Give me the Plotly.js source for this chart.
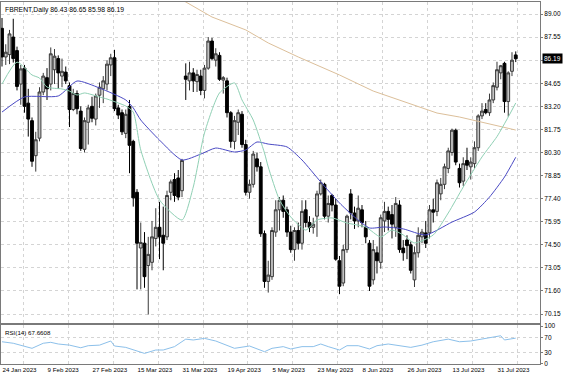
<!DOCTYPE html>
<html><head><meta charset="utf-8">
<script src="https://cdn.plot.ly/plotly-3.0.1.min.js"></script>
<style>html,body{margin:0;padding:0;background:#fff;}#chart{width:564px;height:376px;}</style>
</head><body><div id="chart"></div>
<script>
const dates = [
"2023-01-24","2023-01-25","2023-01-26","2023-01-27","2023-01-30","2023-01-31",
"2023-02-01","2023-02-02","2023-02-03","2023-02-06","2023-02-07","2023-02-08","2023-02-09","2023-02-10","2023-02-13","2023-02-14","2023-02-15","2023-02-16","2023-02-17","2023-02-20","2023-02-21","2023-02-22","2023-02-23","2023-02-24","2023-02-27","2023-02-28",
"2023-03-01","2023-03-02","2023-03-03","2023-03-06","2023-03-07","2023-03-08","2023-03-09","2023-03-10","2023-03-13","2023-03-14","2023-03-15","2023-03-16","2023-03-17","2023-03-20","2023-03-21","2023-03-22","2023-03-23","2023-03-24","2023-03-27","2023-03-28","2023-03-29","2023-03-30","2023-03-31",
"2023-04-03","2023-04-04","2023-04-05","2023-04-06","2023-04-10","2023-04-11","2023-04-12","2023-04-13","2023-04-14","2023-04-17","2023-04-18","2023-04-19","2023-04-20","2023-04-21","2023-04-24","2023-04-25","2023-04-26","2023-04-27","2023-04-28",
"2023-05-01","2023-05-02","2023-05-03","2023-05-04","2023-05-05","2023-05-08","2023-05-09","2023-05-10","2023-05-11","2023-05-12","2023-05-15","2023-05-16","2023-05-17","2023-05-18","2023-05-19","2023-05-22","2023-05-23","2023-05-24","2023-05-25","2023-05-26","2023-05-29","2023-05-30","2023-05-31",
"2023-06-01","2023-06-02","2023-06-05","2023-06-06","2023-06-07","2023-06-08","2023-06-09","2023-06-12","2023-06-13","2023-06-14","2023-06-15","2023-06-16","2023-06-19","2023-06-20","2023-06-21","2023-06-22","2023-06-23","2023-06-26","2023-06-27","2023-06-28","2023-06-29","2023-06-30",
"2023-07-03","2023-07-05","2023-07-06","2023-07-07","2023-07-10","2023-07-11","2023-07-12","2023-07-13","2023-07-14","2023-07-17","2023-07-18","2023-07-19","2023-07-20","2023-07-21","2023-07-24","2023-07-25","2023-07-26","2023-07-27","2023-07-28","2023-07-31",
"2023-08-01","2023-08-02","2023-08-03","2023-08-04","2023-08-07"];

const open = [88.10,86.30,86.45,87.55,86.70,84.60,85.60,83.40,82.30,80.10,81.20,84.10,85.00,84.60,85.50,86.20,85.10,85.35,84.50,83.00,84.00,82.90,80.50,82.20,83.20,82.40,83.90,84.30,84.60,85.80,86.25,83.10,82.80,81.50,83.20,81.00,77.80,74.30,74.60,73.20,73.40,74.90,75.60,75.10,75.00,77.80,78.60,78.70,77.90,85.10,84.80,85.30,84.75,85.10,84.20,85.60,87.30,86.10,86.40,84.85,84.80,82.80,81.00,82.20,82.70,80.80,77.80,78.30,79.90,79.40,75.20,72.20,72.50,75.30,76.70,77.30,76.70,75.30,74.20,75.40,74.60,76.70,75.90,75.60,76.30,77.70,78.30,76.30,77.60,77.00,73.50,72.10,74.20,77.70,76.50,76.00,76.70,75.60,74.60,72.30,74.00,73.40,76.00,76.60,76.40,75.60,77.00,74.30,74.80,74.50,72.30,74.00,75.00,75.25,75.25,76.70,76.60,77.70,78.30,79.30,80.30,81.70,79.30,78.50,79.80,79.40,79.60,80.60,82.60,83.00,82.80,83.60,84.40,85.30,85.90,83.50,85.40,86.43];
const high = [88.75,87.10,88.00,88.70,86.95,85.80,85.80,84.30,82.50,81.60,84.40,85.30,85.60,86.90,86.80,86.40,86.20,85.70,84.70,84.30,84.20,83.20,82.50,83.30,83.80,84.00,84.70,85.10,86.10,86.50,86.75,83.30,83.00,83.00,83.60,81.10,78.00,75.90,75.30,75.00,76.00,76.80,77.20,76.90,77.90,78.60,79.00,79.20,79.90,85.90,86.00,85.60,85.50,85.50,85.80,87.55,87.50,86.85,86.60,85.10,85.00,82.90,82.60,83.00,82.90,81.10,78.60,80.40,80.30,79.70,75.40,73.50,75.60,77.30,77.50,77.60,76.90,75.70,75.60,75.90,77.30,77.30,76.30,76.20,77.90,78.60,78.40,77.60,77.70,77.40,73.80,74.50,76.40,78.00,76.90,77.60,77.00,76.00,74.80,74.80,74.40,76.40,77.20,76.90,77.00,77.50,77.30,74.80,75.10,74.70,74.40,75.60,75.50,76.00,77.00,77.40,78.60,78.70,79.60,80.60,81.80,81.80,79.60,80.00,80.60,80.00,81.00,82.70,83.40,83.40,84.00,84.70,86.00,85.80,86.00,85.40,86.60,86.65];
const low = [85.70,85.80,85.85,85.95,84.20,83.30,82.80,81.30,79.40,79.10,81.00,83.90,83.60,84.20,84.60,84.30,84.40,84.60,81.90,82.90,82.70,80.40,80.30,80.80,82.20,82.00,83.10,83.40,84.20,85.10,82.90,82.40,81.40,81.20,79.00,76.90,71.70,71.70,71.80,70.12,72.90,74.40,73.60,72.90,74.80,77.30,77.20,77.30,77.50,83.60,84.20,84.10,84.10,83.90,83.70,85.50,86.10,85.70,84.80,84.00,82.50,80.60,80.50,81.40,80.60,77.60,77.40,78.10,79.10,75.00,71.80,71.50,72.30,75.00,75.40,76.20,75.00,74.00,73.50,74.20,74.20,75.60,75.30,75.20,75.00,77.60,76.10,75.90,76.60,73.50,71.40,71.90,74.00,76.10,75.50,75.60,75.60,74.60,71.60,72.00,72.70,73.00,75.30,75.40,74.90,75.00,74.00,73.50,73.60,72.70,71.85,73.70,74.60,74.30,74.90,75.90,76.30,77.30,78.00,79.00,80.10,79.50,78.10,78.20,79.20,78.60,79.30,80.40,82.40,82.70,82.60,83.40,84.20,84.90,82.80,82.55,85.10,85.98];
const close = [86.30,86.60,87.75,86.20,84.45,85.55,83.20,82.40,79.75,81.10,84.10,85.10,84.30,86.50,86.35,85.30,85.40,84.80,83.00,84.00,83.05,80.55,82.30,83.10,82.45,83.85,84.40,84.80,85.85,86.25,83.05,82.65,81.60,82.70,80.75,77.45,74.60,74.65,72.50,73.90,75.00,75.60,75.00,74.60,77.60,78.45,77.60,77.50,79.80,84.90,85.30,84.80,85.20,84.20,85.60,87.30,86.20,86.50,84.90,85.00,82.80,81.00,82.30,82.80,80.80,77.80,78.30,80.20,79.40,75.20,72.20,72.60,75.40,76.70,77.30,76.60,75.30,74.20,75.40,74.60,76.60,75.90,75.60,75.80,77.70,78.40,76.30,77.10,77.00,73.60,71.90,74.20,76.30,76.50,76.00,76.80,75.90,75.00,71.90,74.20,73.50,76.20,76.60,76.10,75.80,77.10,74.20,74.00,74.45,72.90,74.00,75.10,75.30,74.60,76.70,76.55,78.40,78.30,79.40,80.40,81.70,79.70,78.40,79.60,79.50,79.70,80.60,82.60,82.90,82.80,83.60,84.50,85.50,85.75,83.50,85.30,86.10,86.19];

// moving averages (date, value)
const maFastDates = ["2023-01-24","2023-01-30","2023-02-03","2023-02-07","2023-02-09","2023-02-15","2023-02-17","2023-02-21","2023-02-23","2023-03-01","2023-03-03","2023-03-08","2023-03-10","2023-03-14","2023-03-16","2023-03-23","2023-03-31","2023-04-05","2023-04-11","2023-04-17","2023-04-21","2023-04-25","2023-04-28","2023-05-03","2023-05-04","2023-05-09","2023-05-12","2023-05-18","2023-05-23","2023-05-29","2023-06-02","2023-06-09","2023-06-15","2023-06-20","2023-06-23","2023-06-28","2023-07-06","2023-07-12","2023-07-18","2023-07-25","2023-07-31","2023-08-03","2023-08-07"];
const maFast = [84.60,85.98,85.17,84.98,84.41,84.29,84.16,83.91,84.04,83.79,83.66,83.41,83.22,82.84,80.46,77.32,76.06,78.13,81.53,84.04,84.67,83.60,82.34,80.27,79.39,77.32,76.25,75.43,76.06,76.19,75.87,75.62,74.99,75.43,75.12,74.62,75.12,76.50,78.13,80.02,81.30,82.53,83.41];
const maMidDates = ["2023-01-24","2023-02-01","2023-02-14","2023-02-21","2023-03-01","2023-03-10","2023-03-14","2023-03-16","2023-03-23","2023-03-31","2023-04-10","2023-04-14","2023-04-21","2023-04-26","2023-05-01","2023-05-04","2023-05-11","2023-05-17","2023-05-24","2023-05-31","2023-06-06","2023-06-12","2023-06-16","2023-06-23","2023-07-03","2023-07-13","2023-07-21","2023-07-27","2023-08-02","2023-08-07"];
const maMid = [82.84,83.79,83.85,84.79,84.35,83.60,83.10,82.34,81.08,79.83,80.20,80.58,80.33,80.46,80.96,80.83,80.65,79.83,78.45,77.13,76.25,75.56,75.62,75.50,75.12,75.93,76.56,77.50,78.76,80.00];
const maSlowDates = ["2023-03-28","2023-04-03","2023-04-13","2023-04-26","2023-05-04","2023-05-16","2023-05-31","2023-06-13","2023-06-27","2023-07-07","2023-07-17","2023-07-26","2023-08-07"];
const maSlow = [90.30,89.75,88.81,88.00,87.18,86.30,85.17,84.16,83.35,82.78,82.53,82.15,81.71];

const rsiDates = ["2023-01-24","2023-01-27","2023-02-03","2023-02-08","2023-02-10","2023-02-14","2023-02-17","2023-02-22","2023-02-24","2023-03-01","2023-03-06","2023-03-07","2023-03-10","2023-03-14","2023-03-17","2023-03-22","2023-03-24","2023-03-29","2023-04-03","2023-04-05","2023-04-11","2023-04-14","2023-04-19","2023-04-21","2023-04-27","2023-05-03","2023-05-05","2023-05-10","2023-05-12","2023-05-17","2023-05-22","2023-05-24","2023-05-26","2023-05-31","2023-06-02","2023-06-07","2023-06-12","2023-06-14","2023-06-19","2023-06-22","2023-06-27","2023-06-30","2023-07-06","2023-07-12","2023-07-17","2023-07-20","2023-07-25","2023-07-28","2023-08-01","2023-08-02","2023-08-07"];
const rsi = [58,54,40.5,54,56.5,52,49,42,47.5,49,60,46.7,43,36,27,36,36,45,65,62.7,67,60,49,40.5,46.7,31.5,40.5,45,38.7,45,45,52,45,36,47.5,47.5,38.7,47.5,52,46.7,43,49,58,65,58,60,65,69,74,62.7,67.66];

const dateLabels = ["24 Jan 2023","9 Feb 2023","27 Feb 2023","15 Mar 2023","31 Mar 2023","19 Apr 2023","5 May 2023","23 May 2023","8 Jun 2023","26 Jun 2023","13 Jul 2023","31 Jul 2023"];
const dateLabelDays = ["2023-01-24","2023-02-09","2023-02-27","2023-03-15","2023-03-31","2023-04-19","2023-05-05","2023-05-23","2023-06-08","2023-06-26","2023-07-13","2023-07-31"];
const priceTicks = [70.15,71.60,73.05,74.50,75.95,77.40,78.85,80.30,81.75,83.20,84.65,86.10,87.55,89.00];
const rsiTicks = [0,30,70,100];
const symbolTitle = "FBRENT,Daily 86.43 86.65 85.98 86.19";
const rsiTitle = "RSI(14) 67.6608";
const lastPrice = 86.19;

const idx = d => dates.indexOf(d);
const xBars = dates.map((d,i)=>i);
const GRID_SHIFT = 5.6; // grid lines sit between label bars

const traces = [
 {type:'candlestick', x:xBars, open:open, high:high, low:low, close:close, xaxis:'x', yaxis:'y',
  increasing:{line:{color:'#3a3a3a',width:1}, fillcolor:'#c4c4c4'},
  decreasing:{line:{color:'#000000',width:1}, fillcolor:'#000000'},
  whiskerwidth:0, hoverinfo:'skip'},
 {type:'scatter', mode:'lines', x:maSlowDates.map(idx), y:maSlow, xaxis:'x', yaxis:'y', line:{color:'#dcbf9a',width:1}, hoverinfo:'skip'},
 {type:'scatter', mode:'lines', x:maMidDates.map(idx), y:maMid, xaxis:'x', yaxis:'y', line:{color:'#4a4ac4',width:1,shape:'spline',smoothing:0.6}, hoverinfo:'skip'},
 {type:'scatter', mode:'lines', x:maFastDates.map(idx), y:maFast, xaxis:'x', yaxis:'y', line:{color:'#8fd0b4',width:1,shape:'spline',smoothing:0.6}, hoverinfo:'skip'},
 {type:'scatter', mode:'lines', x:rsiDates.map(idx), y:rsi, xaxis:'x', yaxis:'y2', line:{color:'#8cc0ea',width:1}, hoverinfo:'skip'}
];

const F = 'Liberation Sans, Arial, sans-serif';
const GRID = '#d4d4d4';
const layout = {
  width:564, height:376,
  margin:{l:1, r:24, t:2, b:12, pad:0},
  paper_bgcolor:'#ffffff', plot_bgcolor:'#ffffff',
  showlegend:false, dragmode:false,
  font:{family:F, size:6.5, color:'#000'},
  boxgap:0.25, boxgroupgap:0,
  xaxis:{anchor:'y2', range:[-0.267,143.47], tickmode:'array',
    tickvals:dateLabelDays.map(d=>idx(d)+GRID_SHIFT), ticktext:dateLabels,
    ticklabelposition:'outside right', ticklabelshift:-21,
    showgrid:true, gridcolor:GRID, griddash:'dot', gridwidth:1,
    ticks:'', showline:true, mirror:'all', linecolor:'#7a7a7a', linewidth:1,
    zeroline:false, rangeslider:{visible:false}, tickfont:{family:F,size:6.2,color:'#000'}},
  yaxis:{domain:[0.1133,1], range:[69.59,89.754], side:'right', anchor:'x',
    tickmode:'array', tickvals:priceTicks, ticktext:priceTicks.map(v=>v.toFixed(2)),
    showgrid:true, gridcolor:GRID, griddash:'dot', gridwidth:1,
    ticks:'outside', ticklen:2, tickcolor:'#7a7a7a',
    showline:true, mirror:true, linecolor:'#7a7a7a', linewidth:1, zeroline:false,
    tickfont:{family:F,size:6.5,color:'#000'}},
  yaxis2:{domain:[0,0.1077], range:[-1.33,102.67], side:'right', anchor:'x',
    tickmode:'array', tickvals:rsiTicks, ticktext:rsiTicks.map(String),
    showgrid:true, gridcolor:GRID, griddash:'dot', gridwidth:1,
    ticks:'outside', ticklen:2, tickcolor:'#7a7a7a',
    showline:true, mirror:true, linecolor:'#7a7a7a', linewidth:1, zeroline:false,
    tickfont:{family:F,size:6.5,color:'#000'}},
  annotations:[
    {xref:'paper', yref:'paper', x:0.004, y:0.995, xanchor:'left', yanchor:'top', text:symbolTitle, showarrow:false, font:{family:F,size:6.8,color:'#000'}},
    {xref:'paper', yref:'paper', x:0.004, y:0.103, xanchor:'left', yanchor:'top', text:rsiTitle, showarrow:false, font:{family:F,size:6.2,color:'#000'}},
    {xref:'paper', yref:'y', x:1.003, y:lastPrice, xanchor:'left', yanchor:'middle', text:lastPrice.toFixed(2), showarrow:false, bgcolor:'#000', borderpad:1, font:{family:F,size:6.5,color:'#fff'}}
  ]
};
Plotly.newPlot('chart', traces, layout, {staticPlot:true, displayModeBar:false});
</script></body></html>
